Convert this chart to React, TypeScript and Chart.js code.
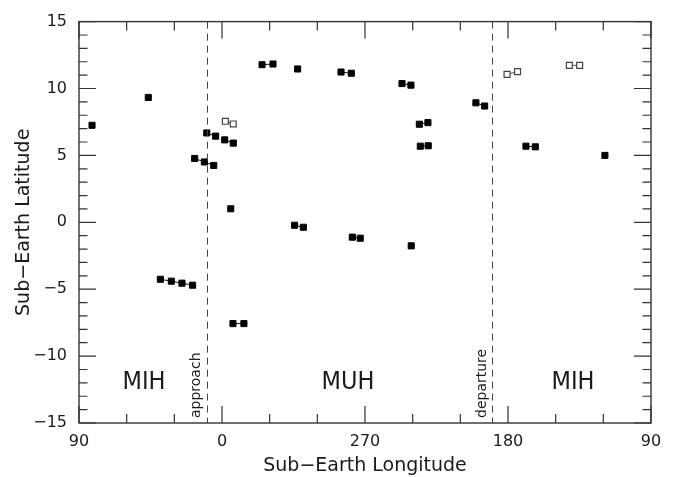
import React, { useEffect, useRef } from 'react';
import { Chart, registerables } from 'chart.js';

Chart.register(...registerables);

// Sub-Earth longitude (deg) for each observation group (filled squares)
const filledLon: number[][] = [
  [81.8],
  [46.4],
  [9.6, 4.0],
  [358.3, 352.9],
  [17.2, 11.1, 5.2],
  [354.5],
  [314.3, 308.8],
  [334.8, 327.9],
  [312.4],
  [285.1, 278.6],
  [246.7, 241.1],
  [200.2, 194.7],
  [235.8, 230.4],
  [235.2, 230.2],
  [168.7, 162.8],
  [119.0],
  [278.0, 273.0],
  [240.9],
  [38.8, 31.9, 25.2, 18.5],
  [353.1, 346.2],
];
// Sub-Earth latitude (deg) for each observation group (filled squares)
const filledLat: number[][] = [
  [7.25],
  [9.33],
  [6.68, 6.44],
  [6.16, 5.92],
  [4.77, 4.51, 4.25],
  [1.01],
  [-0.22, -0.37],
  [11.78, 11.83],
  [11.46],
  [11.23, 11.14],
  [10.37, 10.25],
  [8.93, 8.69],
  [7.33, 7.45],
  [5.69, 5.72],
  [5.69, 5.64],
  [5.0],
  [-1.11, -1.19],
  [-1.76],
  [-4.26, -4.4, -4.55, -4.7],
  [-7.57, -7.57],
];
// Open squares
const openLon: number[][] = [
  [357.9, 352.9],
  [180.6, 174.0],
  [141.4, 134.9],
];
const openLat: number[][] = [
  [7.55, 7.35],
  [11.06, 11.26],
  [11.73, 11.73],
];

const xTickLabels = ['90', '0', '270', '180', '90'];
const approachLon = 9.7;
const departureLon = 189.9;
const regionNames = ['MIH', 'MUH', 'MIH'];
const regionLon = [49.1, 280.7, 139.1];
const regionLat = -12.0;

// longitude -> position along the (wrapped) axis, 0 at left (lon 90) to 360 at right
const toAxis = (lon: number) => ((((90 - lon) % 360) + 360) % 360);

const FONT = "'DejaVu Sans', sans-serif";
const INK = '#1a1a1a';

const framePlugin = {
  id: 'idlFrame',
  afterDatasetsDraw(chart: any) {
    const { ctx, chartArea: a, scales } = chart;
    const xs = scales.x;
    const ys = scales.y;
    ctx.save();
    // dashed event lines
    ctx.strokeStyle = '#444';
    ctx.lineWidth = 1;
    ctx.setLineDash([7, 5]);
    [approachLon, departureLon].forEach((lon) => {
      const px = Math.round(xs.getPixelForValue(toAxis(lon))) + 0.5;
      ctx.beginPath();
      ctx.moveTo(px, a.top);
      ctx.lineTo(px, a.bottom);
      ctx.stroke();
    });
    ctx.setLineDash([]);

    // frame
    ctx.strokeStyle = '#333';
    ctx.lineWidth = 1.4;
    ctx.strokeRect(a.left, a.top, a.right - a.left, a.bottom - a.top);

    // inward ticks
    ctx.lineWidth = 1.2;
    ctx.beginPath();
    for (let u = 0; u <= 360; u += 30) {
      const px = xs.getPixelForValue(u);
      const len = u % 90 === 0 ? 17 : 9;
      ctx.moveTo(px, a.bottom);
      ctx.lineTo(px, a.bottom - len);
      ctx.moveTo(px, a.top);
      ctx.lineTo(px, a.top + len);
    }
    for (let v = -15; v <= 15; v += 1) {
      const py = ys.getPixelForValue(v);
      const len = v % 5 === 0 ? 17 : 8.5;
      ctx.moveTo(a.left, py);
      ctx.lineTo(a.left + len, py);
      ctx.moveTo(a.right, py);
      ctx.lineTo(a.right - len, py);
    }
    ctx.stroke();

    // region names
    ctx.fillStyle = INK;
    ctx.font = "25px 'DejaVu Sans Condensed', 'DejaVu Sans', sans-serif";
    ctx.textAlign = 'center';
    ctx.textBaseline = 'middle';
    regionNames.forEach((name, i) => {
      ctx.fillText(name, xs.getPixelForValue(toAxis(regionLon[i])), ys.getPixelForValue(regionLat));
    });

    // rotated event labels
    ctx.font = `14px ${FONT}`;
    ctx.textAlign = 'left';
    ctx.textBaseline = 'middle';
    [
      ['approach', approachLon],
      ['departure', departureLon],
    ].forEach(([txt, lon]) => {
      const px = xs.getPixelForValue(toAxis(lon as number)) - 10;
      ctx.save();
      ctx.translate(px, a.bottom - 5);
      ctx.rotate(-Math.PI / 2);
      ctx.fillText(txt as string, 0, 0);
      ctx.restore();
    });
    ctx.restore();
  },
};

export default function App() {
  const ref = useRef<HTMLCanvasElement | null>(null);

  useEffect(() => {
    if (!ref.current) return;
    const datasets: any[] = [];
    filledLon.forEach((g, i) => {
      datasets.push({
        label: `obs ${i + 1}`,
        data: g.map((lon, j) => ({ x: toAxis(lon), y: filledLat[i][j] })),
        showLine: true,
        borderColor: '#111',
        borderWidth: 1,
        pointStyle: 'rect',
        pointRadius: 4.3,
        pointBorderWidth: 1,
        pointBackgroundColor: '#000',
        pointBorderColor: '#000',
      });
    });
    openLon.forEach((g, i) => {
      datasets.push({
        label: `open ${i + 1}`,
        data: g.map((lon, j) => ({ x: toAxis(lon), y: openLat[i][j] })),
        showLine: true,
        borderColor: '#555',
        borderWidth: 1,
        pointStyle: 'rect',
        pointRadius: 4.2,
        pointBorderWidth: 1.2,
        pointBackgroundColor: '#fff',
        pointBorderColor: '#444',
      });
    });

    const chart = new Chart(ref.current, {
      type: 'scatter',
      data: { datasets },
      options: {
        responsive: false,
        animation: false,
        layout: { padding: { top: 19, right: 22, left: 0, bottom: 0 } },
        plugins: { legend: { display: false }, tooltip: { enabled: false } },
        scales: {
          x: {
            type: 'linear',
            min: 0,
            max: 360,
            grid: { display: false, drawTicks: false },
            border: { display: false },
            afterFit: (s: any) => {
              s.height = 54;
            },
            ticks: {
              stepSize: 90,
              padding: 9,
              color: INK,
              font: { family: FONT, size: 16 },
              maxRotation: 0,
              callback: (_v: any, i: number) => xTickLabels[i],
            },
            title: {
              display: true,
              text: 'Sub−Earth Longitude',
              color: INK,
              font: { family: FONT, size: 19 },
              padding: { top: 0, bottom: 0 },
            },
          },
          y: {
            type: 'linear',
            min: -15,
            max: 15,
            grid: { display: false, drawTicks: false },
            border: { display: false },
            afterFit: (s: any) => {
              s.width = 79;
            },
            ticks: {
              stepSize: 5,
              padding: 12,
              color: INK,
              font: { family: FONT, size: 16 },
              callback: (v: any) => String(v).replace('-', '−'),
            },
            title: {
              display: true,
              text: 'Sub−Earth Latitude',
              color: INK,
              font: { family: FONT, size: 19 },
              padding: { top: 13, bottom: 0 },
            },
          },
        },
      },
      plugins: [framePlugin],
    });
    return () => chart.destroy();
  }, []);

  return (
    <div style={{ position: 'fixed', left: 0, top: 0, width: 673, height: 477, background: '#fff' }}>
      <canvas ref={ref} width={673} height={477} style={{ display: 'block' }} />
    </div>
  );
}
